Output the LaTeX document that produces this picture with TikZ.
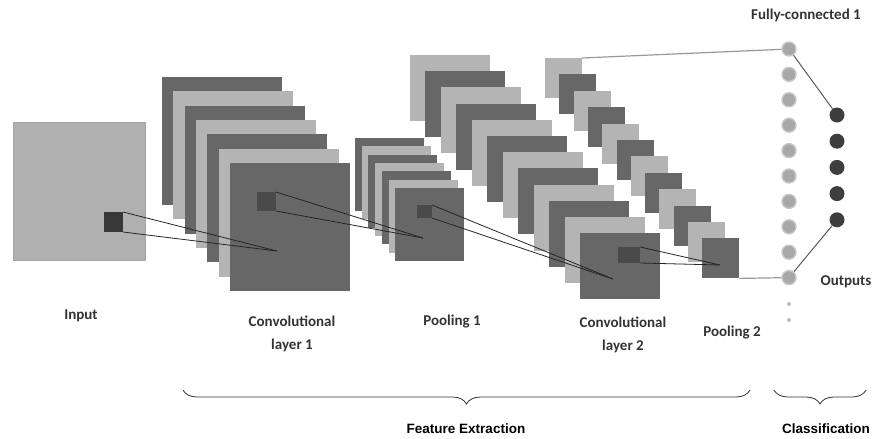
\documentclass[tikz,border=0pt]{standalone}
\usepackage{fontspec}
\setmainfont{Carlito}
\newfontfamily\groupfont{Liberation Sans}
\usetikzlibrary{decorations.pathreplacing}

\definecolor{darkcard}{HTML}{676767}
\definecolor{lightcard}{HTML}{B4B4B4}
\definecolor{inputgray}{HTML}{B0B0B0}
\definecolor{patchgray}{HTML}{4A4A4A}
\definecolor{fcgray}{HTML}{A8A8A8}
\definecolor{outgray}{HTML}{3E3E3E}

\tikzset{
  card/.style={shape=rectangle, anchor=north west, inner sep=0pt, outer sep=0pt},
  patch/.style={card, fill=patchgray},
  ray/.style={draw=black!85, line width=0.8pt},
  fcnode/.style={shape=circle, fill=fcgray, draw=black!22, line width=1.4pt,
    minimum size=14pt, inner sep=0pt},
  outnode/.style={shape=circle, fill=outgray, minimum size=15pt, inner sep=0pt},
  lbl/.style={font=\bfseries\fontsize{15}{23}\selectfont, align=center, text=black!80},
  grouplbl/.style={font=\groupfont\bfseries\fontsize{13.5}{16}\selectfont},
  bracestyle/.style={decorate, decoration={brace, amplitude=14pt, mirror},
    draw=black!80, line width=0.8pt}
}

\begin{document}
\begin{tikzpicture}[x=1pt, y=-1pt]
  \useasboundingbox (0,0) rectangle (876,439);

  % input image
  \node (input)[card, fill=inputgray, draw=black!35, minimum width=132pt, minimum height=138pt]
      at (13,122) {};

  % convolutional layer 1
  \foreach \i [evaluate=\i as \x using 162+11.3*\i,
               evaluate=\i as \y using 77+14.3*\i] in {0,...,6} {
    \ifodd\i \def\cardcol{lightcard}\else \def\cardcol{darkcard}\fi
    \node (cone\i)[card, fill=\cardcol, minimum width=120pt, minimum height=128pt]
        at (\x,\y) {};
  }

  % pooling 1
  \foreach \i [evaluate=\i as \x using 355+6.7*\i,
               evaluate=\i as \y using 138+8.3*\i] in {0,...,6} {
    \ifodd\i \def\cardcol{lightcard}\else \def\cardcol{darkcard}\fi
    \node (pone\i)[card, fill=\cardcol, minimum width=69pt, minimum height=73pt]
        at (\x,\y) {};
  }

  % convolutional layer 2
  \foreach \i [evaluate=\i as \x using 410+15.45*\i,
               evaluate=\i as \y using 55+16.2*\i] in {0,...,11} {
    \ifodd\i \def\cardcol{darkcard}\else \def\cardcol{lightcard}\fi
    \node (ctwo\i)[card, fill=\cardcol, minimum width=80pt, minimum height=66pt]
        at (\x,\y) {};
  }

  % pooling 2
  \foreach \i [evaluate=\i as \x using 545+14.3*\i,
               evaluate=\i as \y using 58+16.4*\i] in {0,...,11} {
    \ifodd\i \def\cardcol{darkcard}\else \def\cardcol{lightcard}\fi
    \node (ptwo\i)[card, fill=\cardcol, minimum width=37pt, minimum height=40pt]
        at (\x,\y) {};
  }

  % receptive fields
  \node (inpatch)[patch, fill=black!78, minimum width=19pt, minimum height=20pt] at (104,212) {};
  \node (conepatch)[patch, minimum width=19pt, minimum height=19pt] at (257,192) {};
  \node (ponepatch)[patch, minimum width=15pt, minimum height=13pt] at (417,205) {};
  \node (ctwopatch)[patch, minimum width=22pt, minimum height=16pt] at (618,247) {};

  \coordinate (conetip) at (277,251);
  \coordinate (ponetip) at (423,238);
  \coordinate (ctwotip) at (613,279);
  \coordinate (ptwotip) at (720,265);

  \draw[ray] (inpatch.north east) -- (conetip);
  \draw[ray] (inpatch.south east) -- (conetip);
  \draw[ray] (conepatch.north east) -- (ponetip);
  \draw[ray] (conepatch.south east) -- (ponetip);
  \draw[ray] (ponepatch.north east) -- (ctwotip);
  \draw[ray] (ponepatch.south east) -- (ctwotip);
  \draw[ray] (ctwopatch.north east) -- (ptwotip);
  \draw[ray] (ctwopatch.south east) -- (ptwotip);

  % fully connected layer
  \foreach \i [evaluate=\i as \y using 49+25.4*(\i-1)] in {1,...,10}
    \node (fc\i)[fcnode] at (789,\y) {};
  \node (fcdota)[shape=circle, fill=black!25, minimum size=4pt, inner sep=0pt] at (789,304) {};
  \node (fcdotb)[shape=circle, fill=black!25, minimum size=4pt, inner sep=0pt] at (789,320) {};

  % outputs
  \foreach \i [evaluate=\i as \y using 115+26.2*(\i-1)] in {1,...,5}
    \node (out\i)[outnode] at (837,\y) {};

  \draw[draw=black!40, line width=1.2pt] (ptwo0.north east) -- (fc1);
  \draw[draw=black!40, line width=1.2pt] (ptwo11.south east) -- (fc10);
  \draw[draw=black!65, line width=1pt] (fc1) -- (out1);
  \draw[draw=black!65, line width=1pt] (fc10) -- (out5);

  % labels
  \node (lblinput)[lbl] at (81,316) {Input};
  \node (lblcone)[lbl] at (292,334) {Convolutional\\layer 1};
  \node (lblpone)[lbl] at (452,322) {Pooling 1};
  \node (lblctwo)[lbl] at (623,335) {Convolutional\\layer 2};
  \node (lblptwo)[lbl] at (732,333) {Pooling 2};
  \node (lblfc)[lbl] at (806,15) {Fully-connected 1};
  \node (lblout)[lbl] at (846,282) {Outputs};

  % stages
  \draw[bracestyle] (183,390) -- (750,390);
  \draw[bracestyle] (774,390) -- (866,390);
  \node (lblfeat)[grouplbl] at (466,429) {Feature Extraction};
  \node (lblclass)[grouplbl] at (826,429) {Classification};
\end{tikzpicture}
\end{document}
